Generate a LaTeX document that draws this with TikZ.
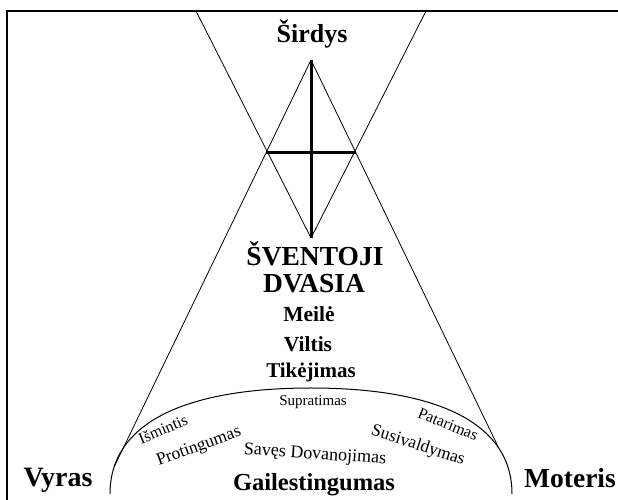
\documentclass[tikz,border=0pt]{standalone}
\usepackage{fontspec}
\setmainfont{Liberation Serif}
\usetikzlibrary{intersections,calc}
\tikzset{
  thinline/.style={line width=0.8pt},
  crossline/.style={line width=3pt},
  frameline/.style={line width=2.2pt},
  boldtxt/.style={font=\bfseries\fontsize{#1}{#1}\selectfont, inner sep=0pt, anchor=base},
  plaintxt/.style={font=\fontsize{#1}{#1}\selectfont, inner sep=0pt},
}
\begin{document}
\begin{tikzpicture}[x=1pt,y=1pt]
\useasboundingbox (0,0) rectangle (618,500);
\fill[white] (0,0) rectangle (618,500);
% frame
\coordinate (fc) at (7,489);
\coordinate (fr) at (618,489);
\coordinate (fb) at (7,0);
\draw[frameline] (fb) -- (fc) -- (fr);
% key points
\coordinate (tl) at (196,489);
\coordinate (tr) at (426,489);
\coordinate (dtop) at (311,440);
\coordinate (dleft) at (266,347);
\coordinate (dright) at (356,347);
\coordinate (dbot) at (311,262);
% arc
\draw[name path=arc, line width=1pt] (110,6) .. controls (110,80) and (191,112) .. (311,112)
   .. controls (431,112) and (512,80) .. (512,6);
\path[name path=l2l] (dtop) -- ($(dtop)!6!(dleft)$);
\path[name path=l2r] (dtop) -- ($(dtop)!6!(dright)$);
\path[name intersections={of=arc and l2l, by=xl}];
\path[name intersections={of=arc and l2r, by=xr}];
% hourglass lines
\draw[thinline] (tl) -- (dbot);
\draw[thinline] (tr) -- (dbot);
\draw[thinline] (dtop) -- (xl);
\draw[thinline] (dtop) -- (xr);
% cross
\draw[crossline] (dtop) -- (dbot);
\draw[crossline] (dleft) -- (dright);
% texts
\node[boldtxt=26] (sirdys) at (312,457) {Širdys};
\node[boldtxt=27.5] (sventoji) at (315,234) {ŠVENTOJI};
\node[boldtxt=27.5] (dvasia) at (314,207) {DVASIA};
\node[boldtxt=21.5] (meile) at (309,178) {Meilė};
\node[boldtxt=21.5] (viltis) at (308,148) {Viltis};
\node[boldtxt=21] (tikejimas) at (311,122) {Tikėjimas};
\node[plaintxt=15, anchor=base] (supratimas) at (313,94) {Supratimas};
\node[plaintxt=16, rotate=23] (ismintis) at (163,71) {Išmintis};
\node[plaintxt=17.5, rotate=20] (protingumas) at (199,53) {Protingumas};
\node[plaintxt=18, rotate=-4] (saves) at (315,45) {Savęs Dovanojimas};
\node[plaintxt=17.5, rotate=-18] (susivaldymas) at (418,54) {Susivaldymas};
\node[plaintxt=16, rotate=-22] (patarimas) at (448,76) {Patarimas};
\node[boldtxt=24.5] (gailestingumas) at (314,9) {Gailestingumas};
\node[boldtxt=28] (vyras) at (58,13) {Vyras};
\node[boldtxt=27.5] (moteris) at (570,12) {Moteris};
\end{tikzpicture}
\end{document}
